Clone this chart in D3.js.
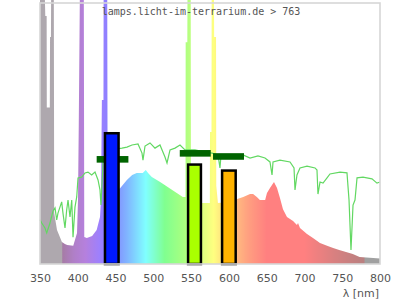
<!DOCTYPE html>
<html>
<head>
<meta charset="utf-8">
<script src="https://cdn.jsdelivr.net/npm/d3@7"></script>
<style>
body{margin:0;background:#fff;}
svg{display:block;font-family:"DejaVu Sans",sans-serif;}
</style>
</head>
<body>
<div class="chart"></div>
<script>
// lamp spectrum (relative units, 100 = top of plot)
const lampNm  = [350,356.5,357,358.8,359,363,363.3,364.5,364.7,368.3,368.8,372.5,379,383,386,394,399,400.3,401.3,402.7,408,408.6,412,419,425,429.4,430.7,431.9,434,434.2,439,439.5,447,456,465,472,478,486,490,493,498,509,519,531,539,542.6,542.8,545,545.2,549.5,549.8,556,563,574.8,575,577,577.2,580.3,580.5,583,583.3,585.5,600,609,611,619,628,632,637,641,648,650.4,654.4,659.7,663.7,667.6,671.6,676.9,684.9,690.1,691.5,694.1,703.4,711.3,720.6,729.9,738,746,755,764,773,782,791,800];
const lampVal = [130,130,95,95,60,60,87,87,130,130,19.5,13,8.4,7.7,7.3,7.0,11.9,24.5,53,130,130,10.3,10,10.7,13,18,24.5,62.8,62.8,130,130,27,28,29,32.2,34.1,34.9,34.9,36,34.9,33.3,31.4,29.5,27.2,25.7,25.7,85,85,130,130,24.5,24,23.4,23.4,50.6,50.6,130,130,87,87,30,23.4,23.8,24.5,24.9,25.7,26.8,26.8,25.7,24.5,24.5,27.2,29.1,31.4,29.1,25.3,21,18,16.5,14.9,15.7,13.8,11.5,10,8,7,6.1,5.4,4.6,3.8,2.7,2.5,2.3,2.1];

// sunlight reference curve (green line)
const sunNm  = [350,352.3,356.6,358.9,363.2,367.2,369.9,372.1,373.8,378.7,380.4,383.1,385.3,387.1,389.7,392,393.7,396.3,398.6,400.3,405.2,409.6,413.5,418.4,422.8,426.8,429.4,430.7,433.4,442.6,458.5,465.1,471.8,479.7,485,486.3,489,495.6,502.2,508.8,515.4,518.1,522.1,528.7,535.3,541.9,555.1,568.4,577.6,585.6,588.2,589.6,608.1,618.7,628,638.5,647.8,654.4,657.1,658.4,667.6,680.9,686.2,687.5,690.1,694.1,703.4,714,716.6,717.9,720.6,724.6,729.9,733.8,747.1,756.3,759,761.6,764.3,766.9,769.6,777.5,789.4,796,800];
const sunVal = [17,15.7,13.8,11.9,15.7,20.3,21.5,16.9,19.5,23.8,19.5,13.8,20.7,24.5,18,24.5,10.3,21.8,25.7,33,33.3,34.9,35.2,34.1,35.2,32.2,28.4,22.6,38.7,43.7,44.4,44.8,45.6,46,42.5,39.8,45.2,46.4,44.4,45.6,41,38.7,43.7,44.4,45.6,43.7,43.7,42.9,42.5,41.8,36.8,41.8,41.8,41.8,40.6,41.4,40.6,39.1,34.1,39.1,39.8,39.1,36.8,28.4,34.1,36.8,37.5,36.8,36,26.8,31.4,31,33,34.5,35.2,34.9,24.5,5.4,22.6,24.5,33,33.3,32.6,31,31.4];

// measured bands (bars)
const barFrom = [436, 546, 591];
const barTo   = [454, 563, 609];
const barVal  = [50.1, 38.1, 35.8];

// sunlight average per band (dark green marks)
const bandFrom = [425, 535, 579];
const bandTo   = [467, 576, 620];
const bandVal  = [40.1, 42.4, 41.2];

const xTicks = [350, 400, 450, 500, 550, 600, 650, 700, 750, 800];

// colours of the spectrum fill
const specNm  = [350, 379.9, 380, 395, 410, 430, 445, 465, 490, 515, 540, 565, 580, 600, 625, 650, 700, 740, 779.9, 780, 800];
const specCol = ['#aea8ae','#aea8ae','#a67ca6','#b07fc8','#b580dd','#9c80ff','#8480ff','#80b4ff','#80ffff','#80ff90','#a8ff80','#e0ff80','#ffff80','#ffcc80','#ffa080','#ff8080','#ff8080','#d88080','#b88080','#a0a0a0','#a0a0a0'];
const barCol  = ['#0019ff', '#aaff00', '#ffb300'];

const width = 400, height = 300;
const margin = {top: 3, right: 20, bottom: 36, left: 40};

const svg = d3.select('.chart').append('svg')
    .attr('width', width).attr('height', height);

const x = d3.scaleLinear([350, 800], [margin.left, width - margin.right]);
const y = d3.scaleLinear([0, 100], [height - margin.bottom, margin.top]);

// gradient across the wavelengths
const colorOf = d3.scaleLinear().domain(specNm).range(specCol);
const grad = svg.append('defs').append('linearGradient')
    .attr('id', 'spec').attr('gradientUnits', 'userSpaceOnUse')
    .attr('x1', x(350)).attr('x2', x(800)).attr('y1', 0).attr('y2', 0);
grad.selectAll('stop').data(d3.range(350, 800.1, 1)).join('stop')
    .attr('offset', d => (d - 350) / 450)
    .attr('stop-color', d => colorOf(d));

const lamp = lampNm.map((d, i) => ({nm: d, v: lampVal[i]}));
const sun = sunNm.map((d, i) => ({nm: d, v: sunVal[i]}));

svg.append('path').datum(lamp)
    .attr('fill', 'url(#spec)')
    .attr('d', d3.area().x(d => x(d.nm)).y0(y(0)).y1(d => Math.max(0, y(d.v))));

svg.append('path').datum(sun)
    .attr('fill', 'none').attr('stroke', '#62d862').attr('stroke-width', 1.2)
    .attr('d', d3.line().x(d => x(d.nm)).y(d => y(d.v)));

// dark green band marks
svg.append('g').selectAll('rect').data(bandVal).join('rect')
    .attr('x', (d, i) => x(bandFrom[i]))
    .attr('width', (d, i) => x(bandTo[i]) - x(bandFrom[i]))
    .attr('y', d => y(d) - 3.3).attr('height', 6.6)
    .attr('fill', '#006400');

// bars
svg.append('g').selectAll('rect').data(barVal).join('rect')
    .attr('x', (d, i) => x(barFrom[i]))
    .attr('width', (d, i) => x(barTo[i]) - x(barFrom[i]))
    .attr('y', d => y(d)).attr('height', d => y(0) - y(d))
    .attr('fill', (d, i) => barCol[i])
    .attr('stroke', '#000').attr('stroke-width', 2.5);

// frame
svg.append('rect')
    .attr('x', x(350)).attr('y', y(100))
    .attr('width', x(800) - x(350)).attr('height', y(0) - y(100))
    .attr('fill', 'none').attr('stroke', '#d6d6d6').attr('stroke-width', 1.6);

// x axis, labels only
const xAxis = d3.axisBottom(x).tickValues(xTicks).tickSize(0).tickPadding(10);
const gx = svg.append('g').attr('transform', `translate(0,${y(0)})`).call(xAxis);
gx.select('.domain').remove();
gx.selectAll('text').attr('font-size', 11).attr('font-family', 'DejaVu Sans').attr('fill', '#555');

svg.append('text').attr('x', 379).attr('y', 297)
    .attr('text-anchor', 'end').attr('font-size', 11).attr('fill', '#555')
    .text('λ [nm]');

svg.append('text').attr('x', 201).attr('y', 15)
    .attr('text-anchor', 'middle').attr('font-family', 'DejaVu Sans Mono')
    .attr('font-size', 10).attr('fill', '#555')
    .text('lamps.licht-im-terrarium.de > 763');
</script>
</body>
</html>
